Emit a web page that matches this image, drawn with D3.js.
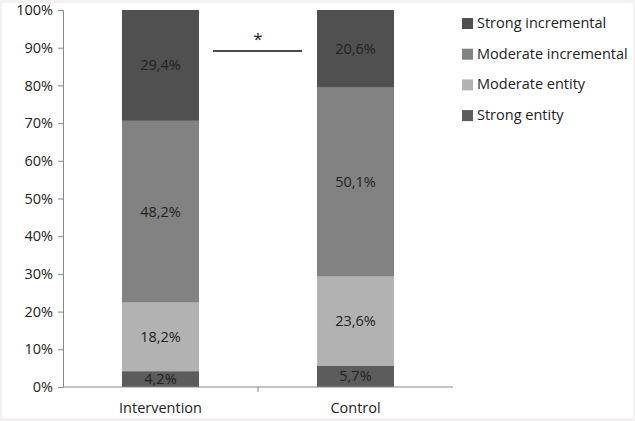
<!DOCTYPE html>
<html>
<head>
<meta charset="utf-8">
<script src="https://cdn.jsdelivr.net/npm/d3@7"></script>
<style>
  body { margin: 0; background: #f3f1f1; }
  svg { display: block; }
  text { font-family: "Open Sans", "Noto Sans", sans-serif; fill: #222; }
</style>
</head>
<body>
<svg id="chart" width="635" height="421"></svg>
<script>
// data
let groups = ["Intervention", "Control"];
let levels = ["Strong entity", "Moderate entity", "Moderate incremental", "Strong incremental"];
let intervention = [4.2, 18.2, 48.2, 29.4];
let control = [5.7, 23.6, 50.1, 20.6];
let yTicks = [0, 10, 20, 30, 40, 50, 60, 70, 80, 90, 100];

let colors = {
    "Strong entity": "#5c5c5c",
    "Moderate entity": "#b2b2b2",
    "Moderate incremental": "#828282",
    "Strong incremental": "#505050"
};

let fontSize = "14.5px";

let svg = d3.select("#chart");

svg.append("rect")
    .attr("x", 2).attr("y", 3)
    .attr("width", 631).attr("height", 415)
    .attr("fill", "#fff");

let x = d3.scaleBand().domain(groups).range([63, 453]).paddingInner(0).paddingOuter(0);
let y = d3.scaleLinear().domain([0, 100]).range([387, 10]);
let barW = 77;

// stack the rows
let rows = [intervention, control].map(function (vals, gi) {
    let row = { group: groups[gi] };
    levels.forEach(function (l, i) { row[l] = vals[i]; });
    return row;
});
let series = d3.stack().keys(levels)(rows);

let layer = svg.selectAll("g.layer")
    .data(series)
    .enter()
    .append("g")
    .attr("class", "layer")
    .attr("fill", function (d) { return colors[d.key]; });

layer.selectAll("rect")
    .data(function (d) { return d; })
    .enter()
    .append("rect")
    .attr("x", function (d) { return x(d.data.group) + x.bandwidth() / 2 - barW / 2; })
    .attr("y", function (d) { return y(d[1]); })
    .attr("width", barW)
    .attr("height", function (d) { return y(d[0]) - y(d[1]); });

layer.selectAll("text")
    .data(function (d) { return d; })
    .enter()
    .append("text")
    .attr("x", function (d) { return x(d.data.group) + x.bandwidth() / 2; })
    .attr("y", function (d) { return (y(d[0]) + y(d[1])) / 2 + 5; })
    .attr("text-anchor", "middle")
    .style("font-size", fontSize)
    .text(function (d) { return d3.format(".1f")(d[1] - d[0]).replace(".", ",") + "%"; });

// y axis
let yAxis = svg.append("g")
    .attr("transform", "translate(63,0)")
    .call(d3.axisLeft(y).tickValues(yTicks).tickSize(5).tickPadding(5)
        .tickFormat(function (d) { return d + "%"; }));
yAxis.selectAll("path, line").attr("stroke", "#888");
yAxis.selectAll("text").style("font-size", fontSize).style("font-family", "\"Open Sans\", sans-serif").attr("fill", "#222");

// x axis
let xAxis = svg.append("g")
    .attr("transform", "translate(0,387)")
    .call(d3.axisBottom(x).tickSize(0).tickPadding(16));
xAxis.select("path").attr("stroke", "#888").attr("d", "M63,0H453");
xAxis.selectAll("text").style("font-size", fontSize).style("font-family", "\"Open Sans\", sans-serif").attr("fill", "#222");
xAxis.append("line")
    .attr("x1", 258).attr("x2", 258).attr("y1", 0).attr("y2", 5)
    .attr("stroke", "#888");

// significance marker
let mid = x("Control");
svg.append("line")
    .attr("x1", mid - 45).attr("x2", mid + 44)
    .attr("y1", 51).attr("y2", 51)
    .attr("stroke", "#111").attr("stroke-width", 1.5);
svg.append("text")
    .attr("x", mid).attr("y", 45)
    .attr("text-anchor", "middle")
    .style("font-size", "17px")
    .text("*");

// legend, top entry first
let legend = svg.append("g")
    .selectAll("g")
    .data(levels.slice().reverse())
    .enter()
    .append("g")
    .attr("transform", function (d, i) { return "translate(462," + (23 + i * 30.7) + ")"; });
legend.append("rect")
    .attr("x", 0).attr("y", -5)
    .attr("width", 11).attr("height", 11)
    .attr("fill", function (d) { return colors[d]; });
legend.append("text")
    .attr("x", 15).attr("y", 5)
    .style("font-size", fontSize)
    .text(function (d) { return d; });
</script>
</body>
</html>
